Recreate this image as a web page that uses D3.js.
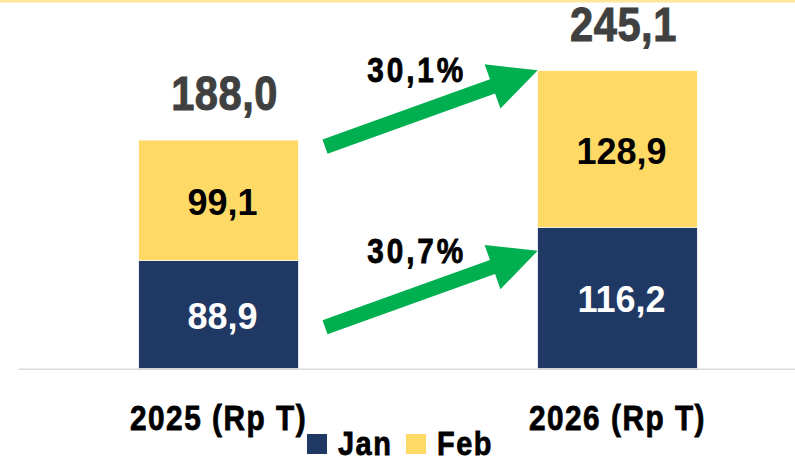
<!DOCTYPE html>
<html>
<head>
<meta charset="utf-8">
<script src="https://cdn.jsdelivr.net/npm/d3@7"></script>
<style>
  body { margin: 0; background: #fff; }
  svg { display: block; }
  text { font-family: "Liberation Sans", Arial, sans-serif; font-weight: bold; }
</style>
</head>
<body>
<svg id="chart"></svg>
<script>
const categories = ['2025 (Rp T)', '2026 (Rp T)'];
const series = ['Jan', 'Feb'];
const janValues = [88.9, 116.2];
const febValues = [99.1, 128.9];
const totals = ['188,0', '245,1'];
const janLabels = ['88,9', '116,2'];
const febLabels = ['99,1', '128,9'];
const growthLabels = ['30,1%', '30,7%'];

const width = 795, height = 461;
const colors = { Jan: '#203864', Feb: '#FFD966' };
const narrow = 0.85; // horizontal squeeze to mimic a narrow bold face

const svg = d3.select('#chart')
    .attr('width', width)
    .attr('height', height);

// top pale stripe
svg.append('rect')
    .attr('x', 0).attr('y', 0)
    .attr('width', width).attr('height', 2.5)
    .attr('fill', '#FFE699');

const xScale = d3.scaleBand()
    .domain(categories)
    .range([39, 797])
    .paddingInner(0.6)
    .paddingOuter(0.25);

const yScale = d3.scaleLinear()
    .domain([0, 300])
    .range([368.5, 368.5 - 300 * 1.215]);

let data = categories.map((c, i) => ({ cat: c, Jan: janValues[i], Feb: febValues[i] }));
let stacked = d3.stack().keys(series)(data);

// baseline
svg.append('line')
    .attr('x1', 19).attr('x2', width)
    .attr('y1', yScale(0) + 0.8).attr('y2', yScale(0) + 0.8)
    .attr('stroke', '#D9D9D9')
    .attr('stroke-width', 1.6);

svg.selectAll('g.layer')
    .data(stacked)
    .enter()
    .append('g')
    .attr('class', 'layer')
    .attr('fill', d => colors[d.key])
    .selectAll('rect')
    .data(d => d)
    .enter()
    .append('rect')
      .attr('x', d => xScale(d.data.cat))
      .attr('y', d => yScale(d[1]))
      .attr('width', xScale.bandwidth())
      .attr('height', d => yScale(d[0]) - yScale(d[1]))
      .attr('stroke', '#ffffff')
      .attr('stroke-width', 0.6);

// segment labels
const segLabels = [janLabels, febLabels];
stacked.forEach((layer, k) => {
  svg.selectAll('text.seg' + k)
      .data(layer)
      .enter()
      .append('text')
      .attr('class', 'seg' + k)
      .text((d, i) => segLabels[k][i])
        .attr('x', d => xScale(d.data.cat) + xScale.bandwidth() / 2 + 4)
        .attr('y', d => (yScale(d[0]) + yScale(d[1])) / 2 + 14.5)
        .attr('text-anchor', 'middle')
        .attr('fill', k === 0 ? '#ffffff' : '#000000')
        .style('font-size', '36px');
});

// totals
svg.selectAll('text.total')
    .data(data)
    .enter()
    .append('text')
    .attr('class', 'total')
    .text((d, i) => totals[i])
      .attr('transform', d => `translate(${xScale(d.cat) + xScale.bandwidth() / 2 + 6},${yScale(d.Jan + d.Feb) - 30}) scale(${narrow},1)`)
      .attr('text-anchor', 'middle')
      .attr('fill', '#404040')
      .attr('stroke', '#404040')
      .attr('stroke-width', 1)
      .style('font-size', '49px')
      .style('letter-spacing', '0.6px');

// category labels
svg.selectAll('text.cat')
    .data(categories)
    .enter()
    .append('text')
    .attr('class', 'cat')
    .text(d => d)
      .attr('transform', d => `translate(${xScale(d) + xScale.bandwidth() / 2},430) scale(${narrow},1)`)
      .attr('text-anchor', 'middle')
      .attr('fill', '#000')
      .attr('stroke', '#000')
      .attr('stroke-width', 0.8)
      .style('font-size', '35px')
      .style('letter-spacing', '1.8px');

// growth arrows: tip anchored to 2026 bar, tail near 2025 bar
const arrowTips = [
  { x: xScale(categories[1]), y: yScale(janValues[1] + febValues[1]) - 0.5 },
  { x: xScale(categories[1]), y: yScale(janValues[1]) + 23.5 }
];
const angle = Math.atan2(-76.5, 213);
const len = 226, shaftW = 15, headW = 47, headL = 48;

function arrowPath(tip) {
  const ux = Math.cos(angle), uy = Math.sin(angle);
  const nx = -uy, ny = ux;
  const tx = tip.x - ux * len, ty = tip.y - uy * len;
  const bx = tip.x - ux * headL, by = tip.y - uy * headL;
  const pts = [
    [tx + nx * shaftW / 2, ty + ny * shaftW / 2],
    [bx + nx * shaftW / 2, by + ny * shaftW / 2],
    [bx + nx * headW / 2, by + ny * headW / 2],
    [tip.x, tip.y],
    [bx - nx * headW / 2, by - ny * headW / 2],
    [bx - nx * shaftW / 2, by - ny * shaftW / 2],
    [tx - nx * shaftW / 2, ty - ny * shaftW / 2]
  ];
  return 'M' + pts.map(p => p.join(',')).join('L') + 'Z';
}

svg.selectAll('path.arrow')
    .data(arrowTips)
    .enter()
    .append('path')
    .attr('class', 'arrow')
    .attr('d', arrowPath)
    .attr('fill', '#00B050');

svg.selectAll('text.growth')
    .data(arrowTips)
    .enter()
    .append('text')
    .attr('class', 'growth')
    .text((d, i) => growthLabels[i])
      .attr('transform', d => `translate(${d.x - 121},${d.y + 12}) scale(${narrow},1)`)
      .attr('text-anchor', 'middle')
      .attr('fill', '#000')
      .attr('stroke', '#000')
      .attr('stroke-width', 0.8)
      .style('font-size', '35px')
      .style('letter-spacing', '3.4px');

// legend
const legend = svg.append('g')
    .selectAll('g')
    .data(series)
    .enter()
    .append('g')
    .attr('transform', (d, i) => `translate(${307 + i * 99}, 434)`);

legend.append('rect')
    .attr('width', 20)
    .attr('height', 20)
    .attr('fill', d => colors[d]);

legend.append('text')
    .text(d => d)
      .attr('transform', `translate(31,21) scale(${narrow},1)`)
      .attr('fill', '#000')
      .attr('stroke', '#000')
      .attr('stroke-width', 0.8)
      .style('font-size', '34px')
      .style('letter-spacing', '1.8px');
</script>
</body>
</html>
